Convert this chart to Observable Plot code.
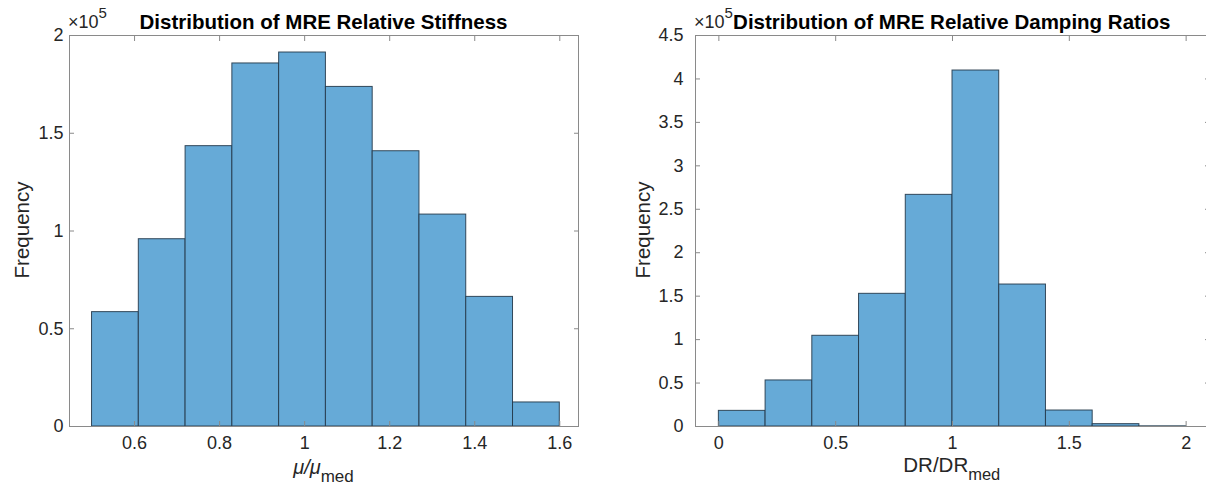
<!DOCTYPE html>
<html><head><meta charset="utf-8">
<script src="https://cdn.jsdelivr.net/npm/d3@7"></script>
<script src="https://cdn.jsdelivr.net/npm/@observablehq/plot@0.6"></script>
<style>
body{margin:0;background:#fff;overflow:hidden;}
#wrap{position:relative;width:1206px;height:495px;overflow:hidden;background:#fff;}
#wrap svg{position:absolute;top:0;}
</style></head><body><div id="wrap"></div>
<script>
// Left histogram: relative stiffness
const stiffEdges = [0.50, 0.61, 0.72, 0.83, 0.94, 1.05, 1.16, 1.27, 1.38, 1.49, 1.60];
const stiffCounts = [58500, 95800, 143400, 185700, 191300, 173700, 140800, 108400, 66300, 12300];
const stiffXTicks = [0.6, 0.8, 1.0, 1.2, 1.4, 1.6];
const stiffYTicks = [0, 50000, 100000, 150000, 200000];
// Right histogram: relative damping ratios
const dampEdges = [0, 0.2, 0.4, 0.6, 0.8, 1.0, 1.2, 1.4, 1.6, 1.8, 2.0];
const dampCounts = [18000, 53000, 104400, 152700, 266600, 409700, 163400, 18400, 2700, 200];
const dampXTicks = [0, 0.5, 1, 1.5, 2];
const dampYTicks = [0, 50000, 100000, 150000, 200000, 250000, 300000, 350000, 400000, 450000];

const FONT = '"Liberation Sans", Arial, Helvetica, sans-serif';
const AX = '#8a8a8a';
const TXT = '#262626';

function hist({edges, counts, xDomain, yDomain, xTicks, yTicks, width, ml, mr, yPad}) {
  const data = counts.map((c, i) => ({x1: edges[i], x2: edges[i + 1], y: c}));
  return Plot.plot({
    width, height: 495,
    marginLeft: ml, marginRight: mr, marginTop: 35, marginBottom: 69,
    x: {domain: xDomain},
    y: {domain: yDomain},
    style: {fontFamily: FONT, fontSize: "18px", color: TXT, background: "transparent", overflow: "visible"},
    marks: [
      Plot.rect(data, {x1: "x1", x2: "x2", y1: () => 0, y2: "y", fill: "#66aad7", stroke: "#24384a", strokeOpacity: 0.9, strokeWidth: 1}),
      Plot.frame({stroke: AX, strokeWidth: 1}),
      Plot.axisX(xTicks, {anchor: "bottom", tickSize: -5, stroke: AX, tickFormat: () => "", label: null}),
      Plot.axisX(xTicks, {anchor: "top", tickSize: -5, stroke: AX, tickFormat: () => "", label: null}),
      Plot.axisX(xTicks, {anchor: "bottom", tickSize: 0, tickPadding: 10, tickFormat: d => String(d), label: null, fill: TXT}),
      Plot.axisY(yTicks, {anchor: "left", tickSize: -5, stroke: AX, tickFormat: () => "", label: null}),
      Plot.axisY(yTicks, {anchor: "right", tickSize: -5, stroke: AX, tickFormat: () => "", label: null}),
      Plot.axisY(yTicks, {anchor: "left", tickSize: 0, tickPadding: yPad, tickFormat: d => String(d / 1e5), label: null, fill: TXT})
    ]
  });
}

const wrap = document.getElementById("wrap");
const left = hist({edges: stiffEdges, counts: stiffCounts, xDomain: [0.447, 1.644], yDomain: [0, 200000],
  xTicks: stiffXTicks, yTicks: stiffYTicks, width: 600, ml: 69, mr: 22, yPad: 6});
left.style.left = "0px";
wrap.appendChild(left);
const right = hist({edges: dampEdges, counts: dampCounts, xDomain: [-0.1, 2.1], yDomain: [0, 450000],
  xTicks: dampXTicks, yTicks: dampYTicks, width: 606, ml: 92, mr: 0, yPad: 12});
right.style.left = "603px";
wrap.appendChild(right);

// Text overlay (titles, exponents, axis labels)
const ov = d3.select(wrap).append("svg").attr("width", 1206).attr("height", 495)
  .style("left", "0px").style("font-family", FONT).attr("fill", TXT);

function title(x, s) {
  ov.append("text").attr("x", x).attr("y", 29).attr("text-anchor", "middle")
    .attr("font-weight", "bold").attr("font-size", 20.5).attr("fill", "#000").text(s);
}
title(323.5, "Distribution of MRE Relative Stiffness");
title(951.8, "Distribution of MRE Relative Damping Ratios");

function expo(x) {
  const t = ov.append("text").attr("x", x).attr("y", 28).attr("font-size", 18);
  t.append("tspan").text("×10");
  t.append("tspan").attr("dy", -10).attr("font-size", 15).text("5");
}
expo(68);
expo(694);

function ylab(x) {
  ov.append("text").attr("transform", `translate(${x},230) rotate(-90)`).attr("text-anchor", "middle")
    .attr("font-size", 20.5).text("Frequency");
}
ylab(29);
ylab(650);

const l1 = ov.append("text").attr("x", 323.5).attr("y", 474).attr("text-anchor", "middle").attr("font-size", 20);
l1.append("tspan").attr("font-style", "italic").text("μ/μ");
l1.append("tspan").attr("dy", 8).attr("font-size", 17).text("med");

const l2 = ov.append("text").attr("x", 951.8).attr("y", 472).attr("text-anchor", "middle").attr("font-size", 20.5);
l2.append("tspan").text("DR/DR");
l2.append("tspan").attr("dy", 8).attr("font-size", 16.5).text("med");
</script></body></html>
